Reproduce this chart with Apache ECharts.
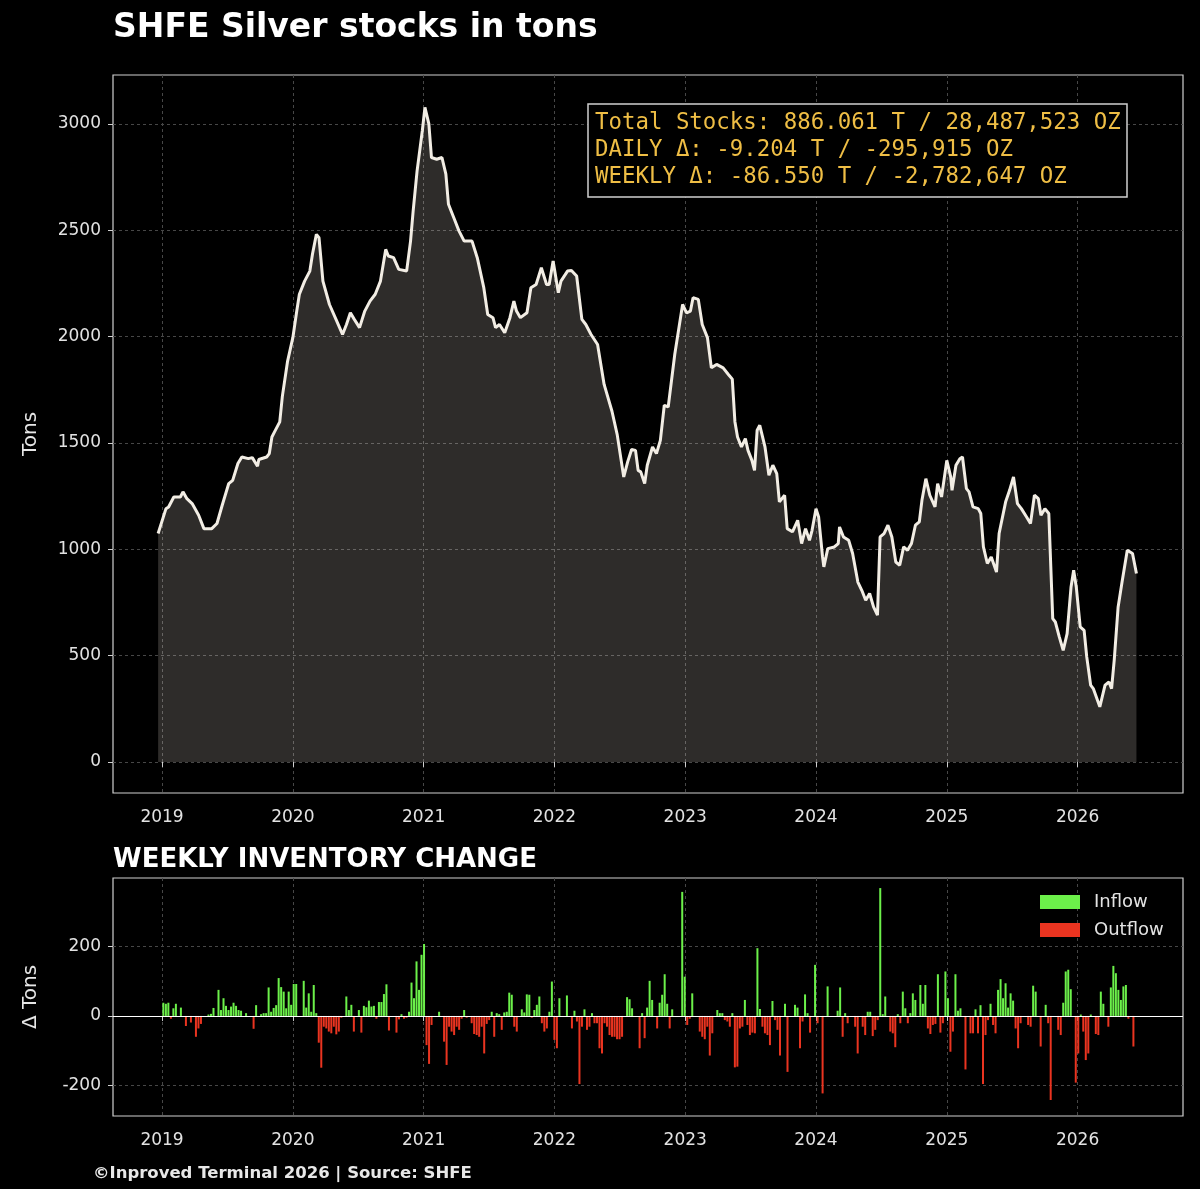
<!DOCTYPE html>
<html><head><meta charset="utf-8">
<script src="https://cdn.jsdelivr.net/npm/echarts/dist/echarts.min.js"></script>
<style>html,body{margin:0;padding:0;background:#000}#c{width:1200px;height:1189px}</style>
</head><body><div id="c"></div>
<script>
// ---- data ----
const stockYears = [2018.97,2019.03,2019.05,2019.09,2019.14,2019.16,2019.19,2019.23,2019.28,2019.32,2019.38,2019.42,2019.46,2019.51,2019.54,2019.58,2019.61,2019.66,2019.69,2019.73,2019.74,2019.80,2019.82,2019.84,2019.86,2019.90,2019.92,2019.96,
2020.00,2020.03,2020.05,2020.09,2020.13,2020.15,2020.18,2020.20,2020.23,2020.28,2020.33,2020.38,2020.41,2020.44,2020.47,2020.51,2020.55,2020.59,2020.63,2020.67,2020.71,2020.73,2020.77,2020.81,2020.87,2020.90,2020.92,2020.95,2020.99,
2021.01,2021.04,2021.06,2021.10,2021.14,2021.17,2021.19,2021.23,2021.27,2021.31,2021.37,2021.41,2021.46,2021.49,2021.53,2021.55,2021.58,2021.62,2021.66,2021.69,2021.71,2021.74,2021.79,2021.82,2021.86,2021.90,2021.94,2021.96,2021.99,
2022.03,2022.05,2022.10,2022.13,2022.17,2022.18,2022.21,2022.24,2022.28,2022.33,2022.38,2022.44,2022.48,2022.53,2022.56,2022.59,2022.62,2022.64,2022.66,2022.69,2022.71,2022.75,2022.78,2022.81,2022.84,2022.87,2022.92,2022.98,
2023.01,2023.04,2023.06,2023.10,2023.13,2023.17,2023.20,2023.24,2023.29,2023.33,2023.36,2023.38,2023.40,2023.43,2023.46,2023.48,2023.51,2023.53,2023.55,2023.57,2023.61,2023.64,2023.67,2023.70,2023.72,2023.76,2023.78,2023.82,2023.86,2023.89,2023.92,2023.95,2023.97,
2024.00,2024.02,2024.05,2024.06,2024.09,2024.14,2024.17,2024.18,2024.21,2024.25,2024.28,2024.32,2024.35,2024.38,2024.41,2024.44,2024.47,2024.49,2024.52,2024.55,2024.58,2024.61,2024.64,2024.67,2024.70,2024.73,2024.76,2024.79,2024.81,2024.84,2024.87,2024.91,2024.93,2024.96,
2025.00,2025.03,2025.04,2025.07,2025.10,2025.12,2025.15,2025.17,2025.20,2025.24,2025.26,2025.28,2025.31,2025.34,2025.38,2025.40,2025.45,2025.48,2025.51,2025.54,2025.57,2025.61,2025.64,2025.67,2025.70,2025.72,2025.75,2025.78,2025.81,2025.83,2025.86,2025.89,2025.92,2025.95,2025.97,2025.99,
2026.02,2026.05,2026.07,2026.10,2026.12,2026.17,2026.21,2026.24,2026.26,2026.28,2026.31,2026.34,2026.38,2026.42,2026.45];
const stockTons = [1074,1191,1199,1246,1246,1270,1238,1215,1160,1097,1097,1121,1207,1309,1324,1403,1434,1426,1431,1390,1422,1434,1450,1528,1552,1599,1720,1885,
1995,2120,2199,2261,2308,2387,2481,2465,2261,2151,2081,2010,2057,2112,2081,2042,2120,2167,2199,2261,2410,2379,2371,2316,2308,2449,2591,2779,2968,
3078,3000,2842,2834,2842,2764,2622,2560,2497,2449,2449,2371,2230,2104,2089,2042,2057,2018,2089,2167,2120,2089,2112,2230,2245,2324,2245,2245,2355,
2206,2261,2308,2311,2285,2292,2081,2057,2010,1963,1775,1649,1539,1340,1411,1469,1465,1371,1364,1309,1395,1481,1450,1512,1677,1669,1916,2151,
2112,2120,2183,2175,2057,1995,1853,1869,1853,1822,1800,1600,1528,1481,1520,1465,1418,1371,1560,1583,1481,1348,1395,1356,1223,1254,1097,1082,1136,1027,1097,1042,1089,
1191,1152,964,917,1003,1011,1027,1105,1058,1042,980,846,807,760,792,729,690,1058,1074,1113,1058,940,925,1011,995,1027,1113,1129,1230,1332,1254,1199,1309,1246,
1418,1340,1277,1395,1426,1434,1285,1270,1199,1191,1168,1011,933,964,893,1074,1223,1277,1340,1215,1191,1152,1121,1254,1238,1160,1191,1168,674,658,588,525,603,823,901,823,
635,619,494,361,345,259,361,376,345,478,729,846,995,980,886];

// weekly inventory change, one value per week starting at weekStartYear
const weekStartYear = 2019.01;
const weekStepYears = 7 / 365.25;
const weeklyChange = [
38,35,38,-8,22,35,0,24,0,-29, 0,-19,0,-60,-36,-23,0,0,4,6, 23,0,75,17,51,29,17,27,38,29, 17,15,0,8,0,0,-37,31,0,5,
8,8,82,12,23,31,109,83,70,22, 70,32,92,92,0,0,101,24,65,12, 89,8,-77,-149,-31,-36,-45,-50,-31,-53, -45,-5,0,56,17,32,-45,0,17,-48,
29,25,44,27,29,-8,40,40,63,91, -42,0,0,-48,-10,5,-8,-5,12,96, 51,157,75,
176,207,
-84,-138,-26,0,0,12,0,-74,-141,-31, -45,-55,-31,-40,-8,17,-5,0,-21,-52, -55,-60,-31,-108,-23,-12,12,-60,8,5, -40,10,12,67,61,-31,-45,0,19,
10,62,61,-5,17,32,56,-21,-45,-36, 12,99,-69,-93,51,0,0,59,0,-36, 15,-16,-196,-31,19,-40,-31,8,-21,-21, -93,-108,-21,-31,-55,-60,-60,-67,-67,-60,
0,54,48,22,0,0,-93,8,-64,24, 101,46,0,-36,38,61,120,35,-36,19,
0,0,0,357,113,-26,-8,65,0,0, -45,-60,-67,-31,-114,-50,0,17,8, 8,-12,-16,-31,8,-148,-146,-36,-31,46, -26,-55,-48,-50,195,20,-31,-50,-55,-84,
43,-12,-40,-114,0,35,-161,0,0,32, 24,-93,-16,62,8,-48,0,147,-21,0, -223,0,85,0,0,0,15,82,-60,8, -21,0,0,-31,-108,0,-31,-55,12,12,
-58,-40,-12,368,5,56,0,-45,-50,-90, 5,-21,70,22,-21,8,65,46,0,89, 35,89,-36,-52,-26,-23,120,-48,
-21,128,51,-103,-45,120,15,22,0,-154, 0,-50,-50,19,-50,31,-196,-55,-12, 35,-26,-50,75,106,51,94,24,65,44, -36,-93,-21,0,0,-26,-31,87,70,0,
-88,0,32,-21,-242,0,0,-40, -55,38,128,133,77,0,-192,-108,4,-45, -127,-108,4,0,-52,-55,70,35,0,-31, 82,144,123,75,46,85,89,-8,0,-88];

const yearTicks = [2019, 2020, 2021, 2022, 2023, 2024, 2025, 2026];
const stockTicks = [0, 500, 1000, 1500, 2000, 2500, 3000];
const changeTicks = [-200, 0, 200];
const infoLines = [
  'Total Stocks: 886.061 T / 28,487,523 OZ',
  'DAILY \u0394: -9.204 T / -295,915 OZ',
  'WEEKLY \u0394: -86.550 T / -2,782,647 OZ'
];

// ---- build ----
const FONT = 'DejaVu Sans';
const stockData = stockYears.map((x, i) => [x, stockTons[i]]);
const inflow = [], outflow = [];
weeklyChange.forEach((v, i) => {
  const x = weekStartYear + i * weekStepYears;
  if (v > 0) inflow.push([x, v]);
  else if (v < 0) outflow.push([x, v]);
});

const splitLine = { show: true, lineStyle: { color: '#474747', type: [3, 3], width: 1 } };
function makeX(gi) {
  return {
    type: 'value', gridIndex: gi, min: 2018.625, max: 2026.806,
    axisLine: { show: false },
    axisTick: { show: true, length: 5, lineStyle: { color: '#cfcfcf' }, customValues: yearTicks },
    axisLabel: { customValues: yearTicks, color: '#e2e2e2', fontSize: 17, fontFamily: FONT, margin: 16,
      formatter: v => String(Math.round(v)) },
    splitLine: splitLine
  };
}
function makeY(gi, min, max, ticks, name) {
  return {
    type: 'value', gridIndex: gi, min: min, max: max,
    axisLine: { show: false },
    axisTick: { show: true, length: 5, lineStyle: { color: '#cfcfcf' }, customValues: ticks },
    axisLabel: { customValues: ticks, color: '#e2e2e2', fontSize: 17, fontFamily: FONT, margin: 12,
      formatter: v => String(Math.round(v)) },
    splitLine: splitLine,
    name: name, nameLocation: 'middle', nameRotate: 90, nameGap: 72,
    nameTextStyle: { color: '#e6e6e6', fontSize: 20, fontFamily: FONT }
  };
}

const chart = echarts.init(document.getElementById('c'));
chart.setOption({
  backgroundColor: '#000000',
  animation: false,
  title: [
    { text: 'SHFE Silver stocks in tons', left: 113, top: 12, padding: 0,
      textStyle: { color: '#ffffff', fontSize: 33, fontWeight: 'bold', fontFamily: FONT } },
    { text: 'WEEKLY INVENTORY CHANGE', left: 113, top: 847, padding: 0,
      textStyle: { color: '#ffffff', fontSize: 26, fontWeight: 'bold', fontFamily: FONT } },
    { text: infoLines.join('\n'), left: 588, top: 104, padding: [6, 7, 6, 7],
      borderColor: '#cfcfcf', borderWidth: 1.5, backgroundColor: '#000000',
      textStyle: { color: '#efbe45', fontSize: 22.4, lineHeight: 27, fontWeight: 'normal', fontFamily: 'DejaVu Sans Mono' } },
    { text: '\u00a9Inproved Terminal 2026 | Source: SHFE', left: 93, top: 1165, padding: 0,
      textStyle: { color: '#e8e8e8', fontSize: 16.5, fontWeight: 'bold', fontFamily: FONT } }
  ],
  legend: {
    data: ['Inflow', 'Outflow'], orient: 'vertical', left: 1040, top: 893, padding: 0,
    itemWidth: 40, itemHeight: 14, itemGap: 10, icon: 'rect',
    textStyle: { color: '#e2e2e2', fontSize: 18, fontFamily: FONT, padding: [0, 0, 0, 9] }
  },
  grid: [
    { left: 113, right: 17, top: 75, height: 718, show: true, borderColor: '#d0d0d0', borderWidth: 1.2 },
    { left: 113, right: 17, top: 878, height: 238, show: true, borderColor: '#d0d0d0', borderWidth: 1.2 }
  ],
  xAxis: [makeX(0), makeX(1)],
  yAxis: [
    makeY(0, -146, 3230, stockTicks, 'Tons'),
    makeY(1, -288, 397, changeTicks, '\u0394 Tons')
  ],
  series: [
    { type: 'line', name: 'Stocks', xAxisIndex: 0, yAxisIndex: 0, data: stockData,
      showSymbol: false, symbol: 'none', z: 3,
      lineStyle: { color: '#f2ede4', width: 3 },
      areaStyle: { color: 'rgba(245,235,225,0.19)', opacity: 1, origin: 'auto' } },
    { type: 'bar', name: 'Inflow', xAxisIndex: 1, yAxisIndex: 1, data: inflow,
      barWidth: 2, barGap: '-100%', itemStyle: { color: '#6cf04a' } },
    { type: 'bar', name: 'Outflow', xAxisIndex: 1, yAxisIndex: 1, data: outflow,
      barWidth: 2, barGap: '-100%', itemStyle: { color: '#ea3420' },
      markLine: { silent: true, symbol: 'none', label: { show: false },
        lineStyle: { color: '#ffffff', type: 'solid', width: 1.2 }, data: [{ yAxis: 0 }] } }
  ]
});
</script></body></html>
